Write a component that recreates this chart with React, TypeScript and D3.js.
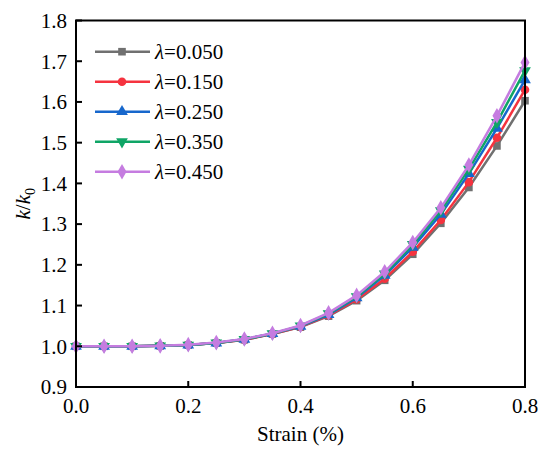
import React, { useRef, useEffect } from 'react';
import * as d3 from 'd3';

const strain = [0, 0.05, 0.1, 0.15, 0.2, 0.25, 0.3, 0.35, 0.4, 0.45, 0.5, 0.55, 0.6, 0.65, 0.7, 0.75, 0.8];

const lambda050 = [1.0, 1.0, 1.0, 1.001, 1.003, 1.008, 1.016, 1.03, 1.047, 1.074, 1.112, 1.162, 1.226, 1.302, 1.39, 1.492, 1.603];
const lambda150 = [1.0, 1.0, 1.0, 1.001, 1.003, 1.008, 1.016, 1.03, 1.048, 1.076, 1.115, 1.166, 1.232, 1.31, 1.403, 1.512, 1.63];
const lambda250 = [1.0, 1.0, 1.0, 1.001, 1.003, 1.008, 1.017, 1.031, 1.049, 1.078, 1.119, 1.174, 1.243, 1.324, 1.424, 1.535, 1.654];
const lambda350 = [1.0, 1.0, 1.0, 1.001, 1.003, 1.008, 1.017, 1.031, 1.05, 1.08, 1.122, 1.178, 1.25, 1.333, 1.435, 1.55, 1.677];
const lambda450 = [1.0, 1.0, 1.0, 1.001, 1.004, 1.009, 1.018, 1.032, 1.051, 1.082, 1.125, 1.183, 1.255, 1.34, 1.445, 1.566, 1.697];

const seriesLabels = ['0.050', '0.150', '0.250', '0.350', '0.450'];
const seriesValues = [lambda050, lambda150, lambda250, lambda350, lambda450];
const seriesColors = ['#707070', '#f5333f', '#1767cc', '#0fa566', '#c57ce0'];
const seriesSymbols = [d3.symbolSquare, d3.symbolCircle, d3.symbolTriangle, 'down', d3.symbolDiamond];

const xTicks = [0, 0.2, 0.4, 0.6, 0.8];
const yTicks = [0.9, 1.0, 1.1, 1.2, 1.3, 1.4, 1.5, 1.6, 1.7, 1.8];

const App: React.FC = () => {
  const ref = useRef<SVGSVGElement>(null);

  useEffect(() => {
    if (!ref.current) return;
    const svg = d3.select(ref.current);
    svg.selectAll('*').remove();

    const left = 76, right = 525, top = 20.5, bottom = 387;
    const font = 'Liberation Serif, Tinos, Times New Roman, DejaVu Serif, serif';

    const x = d3.scaleLinear().domain([0, 0.8]).range([left, right]);
    const y = d3.scaleLinear().domain([0.9, 1.8]).range([bottom, top]);

    const drawMarker = (g: any, sym: any, color: string, cx: number, cy: number) => {
      if (sym === 'down') {
        g.append('path')
          .attr('d', d3.symbol().type(d3.symbolTriangle).size(60)())
          .attr('transform', `translate(${cx},${cy}) rotate(180)`)
          .attr('fill', color);
      } else {
        const size = sym === d3.symbolDiamond ? 70 : sym === d3.symbolTriangle ? 60 : 58;
        g.append('path')
          .attr('d', d3.symbol().type(sym).size(size)())
          .attr('transform', `translate(${cx},${cy})`)
          .attr('fill', color);
      }
    };

    // series
    seriesValues.forEach((vals, si) => {
      const g = svg.append('g');
      const line = d3.line<number>()
        .x((_, i) => x(strain[i]))
        .y(d => y(d));
      g.append('path')
        .datum(vals)
        .attr('fill', 'none')
        .attr('stroke', seriesColors[si])
        .attr('stroke-width', 2.5)
        .attr('d', line);
      vals.forEach((v, i) => drawMarker(g, seriesSymbols[si], seriesColors[si], x(strain[i]), y(v)));
    });

    // frame
    svg.append('rect')
      .attr('x', left).attr('y', top)
      .attr('width', right - left).attr('height', bottom - top)
      .attr('fill', 'none').attr('stroke', '#000').attr('stroke-width', 2);

    // x ticks
    const xa = svg.append('g');
    xTicks.forEach(t => {
      xa.append('line')
        .attr('x1', x(t)).attr('x2', x(t))
        .attr('y1', bottom).attr('y2', bottom - 6)
        .attr('stroke', '#000').attr('stroke-width', 2);
      xa.append('text')
        .attr('x', x(t)).attr('y', bottom + 26)
        .attr('text-anchor', 'middle')
        .style('font-family', font).attr('font-size', 21)
        .text(t.toFixed(1));
    });

    // y ticks
    const ya = svg.append('g');
    yTicks.forEach(t => {
      ya.append('line')
        .attr('x1', left).attr('x2', left + 6)
        .attr('y1', y(t)).attr('y2', y(t))
        .attr('stroke', '#000').attr('stroke-width', 2);
      ya.append('text')
        .attr('x', left - 9).attr('y', y(t))
        .attr('dy', '0.35em')
        .attr('text-anchor', 'end')
        .style('font-family', font).attr('font-size', 21)
        .text(t.toFixed(1));
    });

    // axis titles
    svg.append('text')
      .attr('x', (left + right) / 2).attr('y', 441)
      .attr('text-anchor', 'middle')
      .style('font-family', font).attr('font-size', 21)
      .text('Strain (%)');

    const yl = svg.append('text')
      .attr('transform', `translate(30,${(top + bottom) / 2}) rotate(-90)`)
      .attr('text-anchor', 'middle')
      .style('font-family', font).attr('font-size', 21);
    yl.append('tspan').attr('font-style', 'italic').text('k');
    yl.append('tspan').text('/');
    yl.append('tspan').attr('font-style', 'italic').text('k');
    yl.append('tspan').attr('font-size', 14).attr('dy', 5).text('0');

    // legend
    const lg = svg.append('g');
    seriesLabels.forEach((lab, i) => {
      const ly = 51.7 + i * 30;
      lg.append('line')
        .attr('x1', 95).attr('x2', 150)
        .attr('y1', ly).attr('y2', ly)
        .attr('stroke', seriesColors[i]).attr('stroke-width', 2.5);
      drawMarker(lg, seriesSymbols[i], seriesColors[i], 122, ly);
      const t = lg.append('text')
        .attr('x', 155).attr('y', ly).attr('dy', '0.35em')
        .style('font-family', font).attr('font-size', 21);
      t.append('tspan').attr('font-style', 'italic').text('λ');
      t.append('tspan').text('=' + lab);
    });
  }, []);

  return (
    <svg ref={ref} width={550} height={452}
      style={{ position: 'absolute', left: 0, top: 0, background: '#fff' }} />
  );
};

export default App;
